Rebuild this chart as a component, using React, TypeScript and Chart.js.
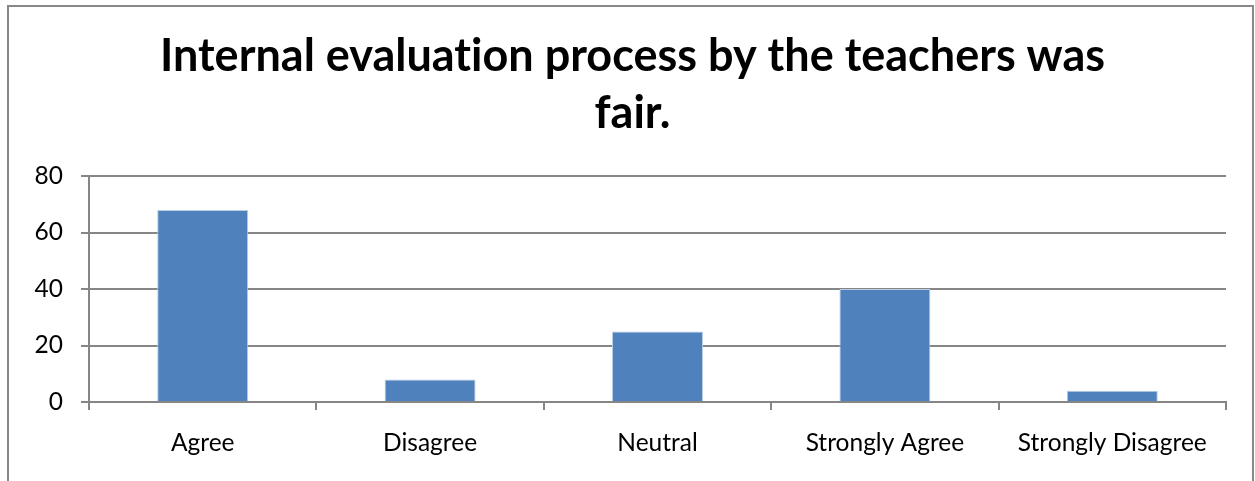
import React, { useEffect, useRef } from "react";
import { Chart, registerables } from "chart.js";

Chart.register(...registerables);

const categories = ["Agree", "Disagree", "Neutral", "Strongly Agree", "Strongly Disagree"];
const values = [68, 8, 25, 40, 4];
const yTicks = [0, 20, 40, 60, 80];
const titleLines = ["Internal evaluation process by the teachers was", "fair."];

const GRID = "#868686";
const BAR = "#4f81bd";
const BAR_EDGE = "#b9cde5";
const FONT = "Lato";

const noLigatures = {
  id: "noLigatures",
  beforeDraw(chart: any) {
    const ctx = chart.ctx as any;
    try {
      ctx.textRendering = "optimizeSpeed";
    } catch (e) {}
  },
};

export default function App() {
  const ref = useRef<HTMLCanvasElement>(null);

  useEffect(() => {
    const canvas = ref.current;
    if (!canvas) return;
    const chart = new Chart(canvas, {
      type: "bar",
      data: {
        labels: categories,
        datasets: [
          {
            data: values,
            backgroundColor: BAR,
            borderColor: BAR_EDGE,
            borderWidth: 1,
            categoryPercentage: 1,
            barPercentage: 0.4,
          },
        ],
      },
      plugins: [noLigatures],
      options: {
        responsive: false,
        animation: false,
        devicePixelRatio: 1,
        layout: { padding: { left: 4, right: 0, top: 0, bottom: 0 } },
        plugins: {
          legend: { display: false },
          tooltip: { enabled: false },
          title: {
            display: true,
            text: titleLines,
            color: "#000",
            font: { family: FONT, size: 45, weight: "bold", lineHeight: "57px" },
            padding: { top: 21, bottom: 34 },
          },
        },
        scales: {
          x: {
            grid: {
              display: true,
              drawOnChartArea: false,
              drawTicks: true,
              tickLength: 8,
              color: GRID,
              lineWidth: 2,
            },
            border: { display: true, color: GRID, width: 2 },
            ticks: { color: "#000", font: { family: FONT, size: 24.5 }, padding: 18, maxRotation: 0 },
            afterFit: (s: any) => {
              s.height = 79;
            },
          },
          y: {
            min: 0,
            max: 80,
            afterBuildTicks: (s: any) => {
              s.ticks = yTicks.map((v) => ({ value: v }));
            },
            grid: { display: true, drawTicks: true, tickLength: 8, color: GRID, lineWidth: 2 },
            border: { display: true, color: GRID, width: 2 },
            ticks: { color: "#000", font: { family: FONT, size: 24.5 }, padding: 18 },
            afterFit: (s: any) => {
              s.width = 76;
            },
          },
          yRight: {
            type: "linear",
            position: "right",
            grid: { display: false },
            border: { display: false },
            ticks: { display: false },
            afterFit: (s: any) => {
              s.width = 26;
            },
          },
        },
      },
    });
    return () => chart.destroy();
  }, []);

  return (
    <div
      style={{
        position: "absolute",
        left: 7,
        top: 5,
        width: 1243,
        height: 474,
        borderTop: "2px solid #888",
        borderLeft: "2px solid #888",
        borderRight: "2px solid #888",
        background: "#fff",
      }}
    >
      <canvas ref={ref} width={1243} height={474} style={{ display: "block" }} />
    </div>
  );
}
